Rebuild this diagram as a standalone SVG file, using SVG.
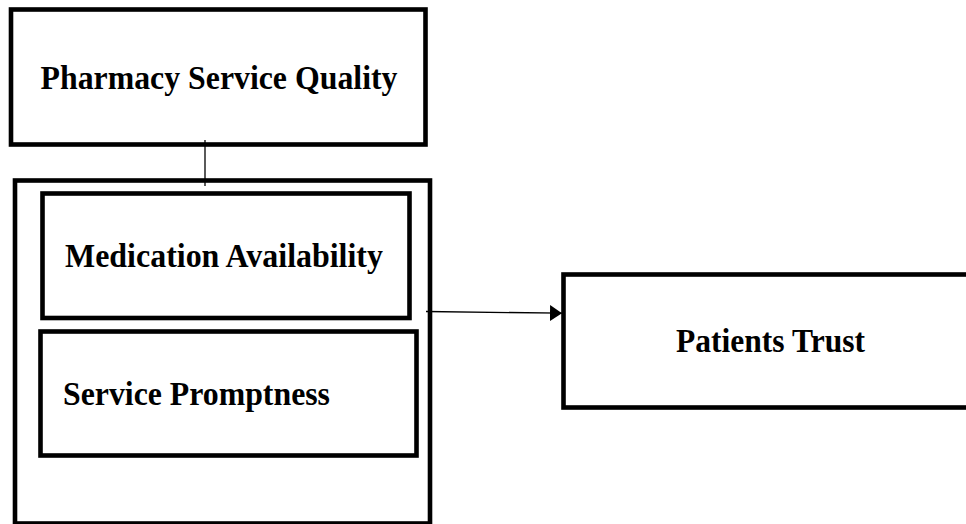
<svg xmlns="http://www.w3.org/2000/svg" width="966" height="524" viewBox="0 0 966 524">
<style>
.box{fill:none;stroke:#000;stroke-width:4.6}
.lbl{font-family:"Liberation Serif","Times New Roman",serif;font-weight:bold;font-size:33px;fill:#000}
.conn{stroke:#000;stroke-width:1.3;fill:none}
</style>
<defs>
<marker id="arr" markerUnits="userSpaceOnUse" markerWidth="13" markerHeight="17" refX="12" refY="8" orient="auto">
<polygon points="0,0 12,8 0,16" fill="#000"/>
</marker>
</defs>
<rect width="966" height="524" fill="#fff"/>
<g id="pharmacy-service-quality">
<rect class="box" x="11" y="9.5" width="414.5" height="135"/>
<text class="lbl" x="40.5" y="89" textLength="357" lengthAdjust="spacingAndGlyphs">Pharmacy Service Quality</text>
</g>
<g id="container">
<rect class="box" x="15" y="180.5" width="415" height="343"/>
</g>
<g id="medication-availability">
<rect class="box" x="42.5" y="193.5" width="367" height="124.5"/>
<text class="lbl" x="65" y="267" textLength="318" lengthAdjust="spacingAndGlyphs">Medication Availability</text>
</g>
<g id="service-promptness">
<rect class="box" x="40.5" y="331.5" width="376" height="124"/>
<text class="lbl" x="63" y="405" textLength="267" lengthAdjust="spacingAndGlyphs">Service Promptness</text>
</g>
<g id="patients-trust">
<rect class="box" x="563.5" y="274.5" width="420" height="133"/>
<text class="lbl" x="676" y="352" textLength="189" lengthAdjust="spacingAndGlyphs">Patients Trust</text>
</g>
<g id="connectors">
<line class="conn" x1="205" y1="140" x2="205" y2="186"/>
<line class="conn" x1="426" y1="311.5" x2="562" y2="313.2" marker-end="url(#arr)"/>
</g>
</svg>
